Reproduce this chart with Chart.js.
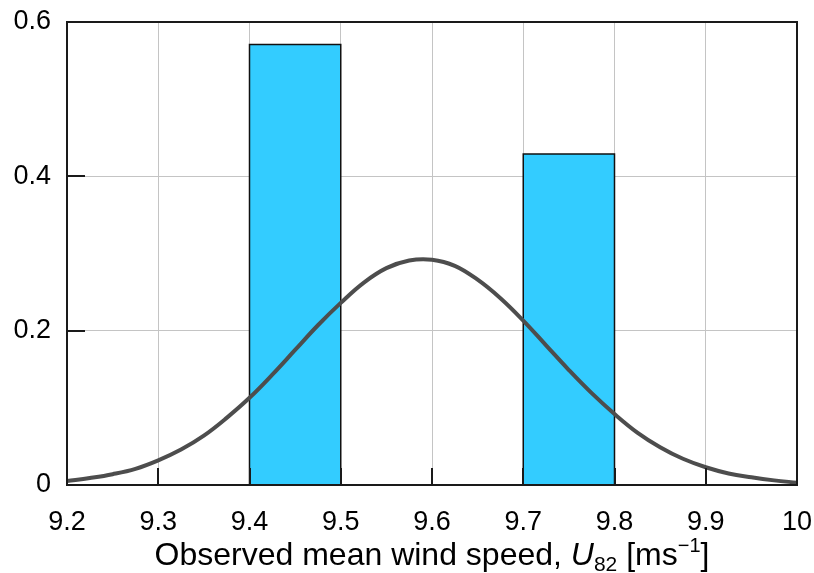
<!DOCTYPE html>
<html>
<head>
<meta charset="utf-8">
<script src="https://cdn.jsdelivr.net/npm/chart.js@4"></script>
<style>
  html, body { margin: 0; padding: 0; background: #fff; }
  #wrap { width: 814px; height: 573px; }
</style>
</head>
<body>
<div id="wrap"><canvas id="chart"></canvas></div>
<script>
// histogram bins (relative frequency)
const binLeft = [9.4, 9.7];
const binRight = [9.5, 9.8];
const binHeights = [0.571, 0.429];

// fitted normal curve
const curveX = [9.2, 9.225, 9.25, 9.275, 9.3, 9.325, 9.35, 9.375, 9.4, 9.425, 9.45, 9.475, 9.5,
  9.525, 9.55, 9.575, 9.6, 9.625, 9.65, 9.675, 9.7, 9.725, 9.75, 9.775, 9.8, 9.825, 9.85,
  9.875, 9.9, 9.925, 9.95, 9.975, 10];
const curveY = [0.005, 0.009, 0.014, 0.021, 0.032, 0.046, 0.064, 0.087, 0.113, 0.143, 0.175, 0.207, 0.236,
  0.262, 0.281, 0.291, 0.292, 0.284, 0.266, 0.242, 0.213, 0.181, 0.149, 0.119, 0.092, 0.068, 0.049,
  0.034, 0.023, 0.015, 0.010, 0.006, 0.003];

const xTicks = [9.2, 9.3, 9.4, 9.5, 9.6, 9.7, 9.8, 9.9, 10];
const yTicks = [0, 0.2, 0.4, 0.6];

const fam = 'Liberation Sans, Arial, sans-serif';
const tickFont = { family: fam, size: 27 };

const barSets = binHeights.map((h, i) => ({
    type: 'line',
    data: [
        { x: binLeft[i], y: 0 },
        { x: binLeft[i], y: h },
        { x: binRight[i], y: h },
        { x: binRight[i], y: 0 }
    ],
    borderColor: '#111',
    borderWidth: 1.5,
    backgroundColor: '#33ccff',
    fill: 'origin',
    tension: 0,
    pointRadius: 0,
    order: 2
}));

// frame box + inward ticks, then the axis title with sub/superscript
const framePlugin = {
    id: 'frame',
    afterDatasetsDraw(chart) {
        const { ctx, chartArea: a, scales } = chart;
        ctx.save();
        ctx.strokeStyle = '#1a1a1a';
        ctx.lineWidth = 2;
        ctx.beginPath();
        xTicks.forEach(v => {
            const px = Math.round(scales.x.getPixelForValue(v));
            ctx.moveTo(px, a.bottom);
            ctx.lineTo(px, a.bottom - 17);
        });
        yTicks.forEach(v => {
            const py = Math.round(scales.y.getPixelForValue(v));
            ctx.moveTo(a.left, py);
            ctx.lineTo(a.left + 18, py);
        });
        ctx.stroke();
        ctx.strokeRect(a.left, a.top, a.right - a.left, a.bottom - a.top);
        ctx.restore();
    },
    afterDraw(chart) {
        const { ctx, chartArea: a } = chart;
        const parts = [
            { t: 'Observed mean wind speed, ', f: '32px ' + fam, dy: 0 },
            { t: 'U', f: 'italic 32px ' + fam, dy: 0 },
            { t: '82', f: '21px ' + fam, dy: 6 },
            { t: ' [ms', f: '32px ' + fam, dy: 0 },
            { t: '\u22121', f: '20px ' + fam, dy: -13 },
            { t: ']', f: '32px ' + fam, dy: 0 }
        ];
        ctx.save();
        ctx.fillStyle = '#000';
        ctx.textBaseline = 'alphabetic';
        let total = 0;
        parts.forEach(p => { ctx.font = p.f; p.w = ctx.measureText(p.t).width; total += p.w; });
        let x = (a.left + a.right) / 2 - total / 2;
        const base = 565;
        parts.forEach(p => {
            ctx.font = p.f;
            ctx.fillText(p.t, x, base + p.dy);
            x += p.w;
        });
        ctx.restore();
    }
};

new Chart(document.getElementById('chart'), {
    type: 'line',
    data: {
        datasets: [
            {
                data: curveX.map((x, i) => ({ x: x, y: curveY[i] })),
                borderColor: '#4d4d4d',
                borderWidth: 4,
                pointRadius: 0,
                fill: false,
                tension: 0.4,
                order: 0
            },
            ...barSets
        ]
    },
    options: {
        responsive: true,
        maintainAspectRatio: false,
        animation: false,
        layout: { padding: { top: 22, right: 17, left: 0, bottom: 0 } },
        plugins: { legend: { display: false }, tooltip: { enabled: false } },
        scales: {
            x: {
                type: 'linear',
                min: 9.2,
                max: 10,
                afterBuildTicks: s => { s.ticks = xTicks.map(v => ({ value: v })); },
                afterFit: s => { s.height = 88; s.paddingLeft = 0; s.paddingRight = 0; },
                ticks: {
                    color: '#000',
                    font: tickFont,
                    padding: 21,
                    maxRotation: 0,
                    callback: v => String(Math.round(v * 10) / 10)
                },
                grid: { color: '#c4c4c4', lineWidth: 1, drawTicks: false },
                border: { display: false }
            },
            y: {
                min: 0,
                max: 0.6,
                afterBuildTicks: s => { s.ticks = yTicks.map(v => ({ value: v })); },
                afterFit: s => { s.width = 67; s.paddingTop = 0; s.paddingBottom = 0; },
                ticks: {
                    color: '#000',
                    font: tickFont,
                    padding: 16,
                    callback: v => String(Math.round(v * 10) / 10)
                },
                grid: { color: '#c4c4c4', lineWidth: 1, drawTicks: false },
                border: { display: false }
            }
        }
    },
    plugins: [framePlugin]
});
</script>
</body>
</html>
